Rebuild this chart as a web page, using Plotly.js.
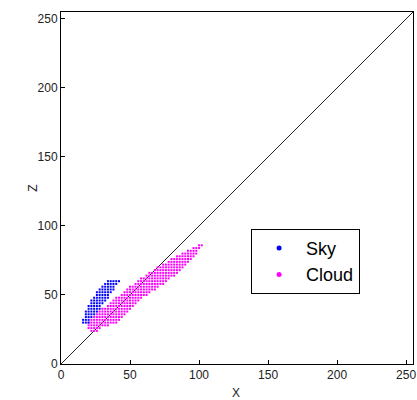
<!DOCTYPE html>
<html>
<head>
<meta charset="utf-8">
<script src="https://cdn.plot.ly/plotly-3.0.1.min.js"></script>
<style>
  html, body { margin: 0; padding: 0; background: #fff; }
  #chart { width: 417px; height: 400px; }
</style>
</head>
<body>
<div id="chart"></div>
<script>
// Sky pixels: each row is [z, [x values]]
const skyRows = [
  [30, [16, 18, 20]],
  [32, [16, 18, 20]],
  [34, [18, 20, 22]],
  [36, [18, 20, 22, 24]],
  [38, [18, 20, 22, 24, 26]],
  [40, [20, 22, 24, 26, 28]],
  [42, [20, 22, 24, 26, 28]],
  [44, [22, 24, 26, 28, 30]],
  [46, [22, 24, 26, 28, 30, 32]],
  [48, [24, 26, 28, 30, 32, 34]],
  [50, [26, 28, 30, 32, 34]],
  [52, [26, 28, 30, 32, 34, 36]],
  [54, [28, 30, 32, 34, 36, 38]],
  [56, [30, 32, 34, 36, 38]],
  [58, [32, 34, 36, 38, 40]],
  [60, [34, 36, 38, 40, 42]]
];

// Cloud pixels: each column is [x, [z values]]
const cloudCols = [
  [20, [26, 28, 30]],
  [22, [24, 26, 28, 30, 32]],
  [24, [24, 26, 28, 30, 32, 34]],
  [26, [24, 26, 28, 30, 32, 34, 36]],
  [28, [26, 28, 30, 32, 34, 36, 38]],
  [30, [28, 30, 32, 34, 36, 38, 40]],
  [32, [28, 30, 32, 34, 36, 38, 40]],
  [34, [28, 30, 32, 34, 36, 38, 40, 42]],
  [36, [30, 32, 34, 36, 38, 40, 42, 44]],
  [38, [30, 32, 34, 36, 38, 40, 42, 44, 46]],
  [40, [30, 32, 34, 36, 38, 40, 42, 44, 46, 48]],
  [42, [32, 34, 36, 38, 40, 42, 44, 46, 48]],
  [44, [34, 36, 38, 40, 42, 44, 46, 48, 50]],
  [46, [36, 38, 40, 42, 44, 46, 48, 50, 52]],
  [48, [38, 40, 42, 44, 46, 48, 50, 52, 54]],
  [50, [40, 42, 44, 46, 48, 50, 52, 54, 56]],
  [52, [42, 44, 46, 48, 50, 52, 54, 56]],
  [54, [44, 46, 48, 50, 52, 54, 56, 58]],
  [56, [46, 48, 50, 52, 54, 56, 58, 60]],
  [58, [48, 50, 52, 54, 56, 58, 60, 62]],
  [60, [50, 52, 54, 56, 58, 60, 62]],
  [62, [50, 52, 54, 56, 58, 60, 62, 64]],
  [64, [52, 54, 56, 58, 60, 62, 64, 66]],
  [66, [54, 56, 58, 60, 62, 64, 66]],
  [68, [54, 56, 58, 60, 62, 64, 66, 68]],
  [70, [56, 58, 60, 62, 64, 66, 68, 70]],
  [72, [58, 60, 62, 64, 66, 68, 70]],
  [74, [58, 60, 62, 64, 66, 68, 70, 72]],
  [76, [60, 62, 64, 66, 68, 70, 72]],
  [78, [62, 64, 66, 68, 70, 72, 74]],
  [80, [64, 66, 68, 70, 72, 74, 76]],
  [82, [64, 66, 68, 70, 72, 74, 76]],
  [84, [66, 68, 70, 72, 74, 76, 78]],
  [86, [68, 70, 72, 74, 76, 78]],
  [88, [70, 72, 74, 76, 78, 80]],
  [90, [72, 74, 76, 78, 80]],
  [92, [74, 76, 78, 80, 82]],
  [94, [76, 78, 80, 82]],
  [96, [78, 80, 82, 84]],
  [98, [80, 82, 84]],
  [100, [84, 86]],
  [102, [86]]
];

// Reference diagonal z = x
const diagX = [0, 255];
const diagZ = [0, 255];

const axisRange = [0, 255];
const tickVals = [0, 50, 100, 150, 200, 250];
const tickText = ['0', '50', '100', '150', '200', '250'];
const seriesNames = ['Sky', 'Cloud'];
const seriesColors = ['#0000ff', '#ff00ff'];
const axisTitles = ['X', 'Z'];

// flatten rows/columns into point lists
const skyX = [], skyZ = [];
skyRows.forEach(([z, xs]) => xs.forEach(x => { skyX.push(x); skyZ.push(z); }));
const cloudX = [], cloudZ = [];
cloudCols.forEach(([x, zs]) => zs.forEach(z => { cloudX.push(x); cloudZ.push(z); }));

const pixelMarker = (c) => ({ color: c, size: 2, symbol: 'square', line: { width: 0 } });

const traces = [
  { x: diagX, y: diagZ, mode: 'lines', line: { color: '#222', width: 1 },
    showlegend: false, hoverinfo: 'skip' },
  { x: cloudX, y: cloudZ, mode: 'markers', marker: pixelMarker(seriesColors[1]),
    showlegend: false, name: seriesNames[1] },
  { x: skyX, y: skyZ, mode: 'markers', marker: pixelMarker(seriesColors[0]),
    showlegend: false, name: seriesNames[0] },
  // legend entries
  { x: [null], y: [null], mode: 'markers', name: seriesNames[0],
    marker: { color: seriesColors[0], size: 5, symbol: 'circle' } },
  { x: [null], y: [null], mode: 'markers', name: seriesNames[1],
    marker: { color: seriesColors[1], size: 5, symbol: 'circle' } }
];

const font = 'Liberation Sans, Arial, sans-serif';

const axisStyle = {
  range: axisRange,
  tickvals: tickVals,
  ticktext: tickText,
  ticks: 'inside',
  ticklen: 4,
  tickcolor: '#000',
  showline: true,
  linecolor: '#000',
  linewidth: 1,
  mirror: true,
  showgrid: false,
  zeroline: false,
  tickfont: { family: font, size: 12, color: '#222' }
};

const layout = {
  width: 417,
  height: 400,
  margin: { l: 61, r: 4, t: 12, b: 36 },
  paper_bgcolor: '#fff',
  plot_bgcolor: '#fff',
  showlegend: true,
  xaxis: Object.assign({}, axisStyle),
  yaxis: Object.assign({}, axisStyle),
  annotations: [
    { text: axisTitles[0], xref: 'paper', yref: 'paper', x: 0.498, y: -0.081,
      xanchor: 'center', yanchor: 'middle', showarrow: false,
      font: { family: font, size: 12, color: '#222' } },
    { text: axisTitles[1], xref: 'paper', yref: 'paper', x: -0.08, y: 0.5,
      xanchor: 'center', yanchor: 'middle', showarrow: false, textangle: -90,
      font: { family: font, size: 12, color: '#222' } }
  ],
  legend: {
    x: 0.54, y: 0.384, xanchor: 'left', yanchor: 'top',
    bgcolor: '#fff', bordercolor: '#000', borderwidth: 1,
    font: { family: font, size: 18, color: '#000' },
    itemwidth: 44
  }
};

Plotly.newPlot('chart', traces, layout, { displayModeBar: false, staticPlot: true });
</script>
</body>
</html>
